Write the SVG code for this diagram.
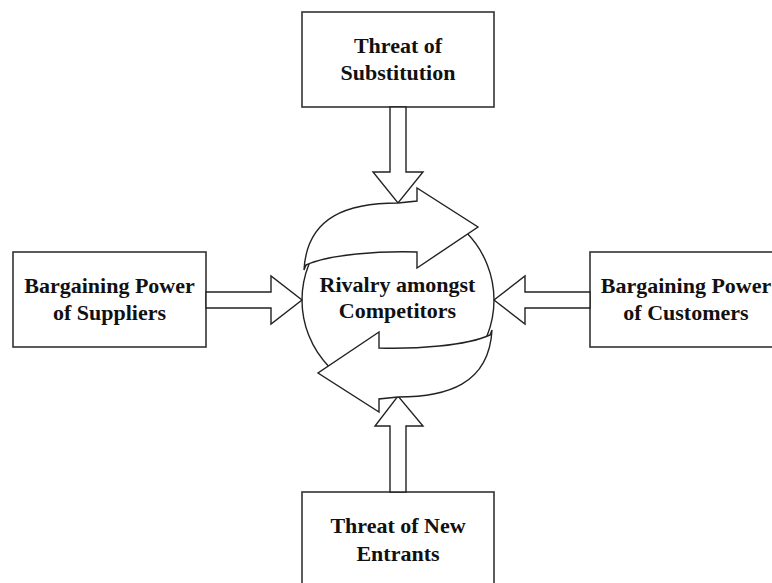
<svg xmlns="http://www.w3.org/2000/svg" width="772" height="583" viewBox="0 0 772 583">
  <style>
    .box { fill: #fff; stroke: #333; stroke-width: 1.6; }
    .shape { fill: #fff; stroke: #222; stroke-width: 1.4; stroke-linejoin: miter; }
    .label { font-family: "Liberation Serif", "Times New Roman", serif; font-weight: bold; font-size: 22px; fill: #111; text-anchor: middle; }
  </style>
  <defs>
    <!-- curved block arrow sweeping over the top of the circle -->
    <path id="sweep" d="M304,270 C307,215 350,203 398,203 L417,201 L417,188 L478,227 L417,268 L417,252 C380,251 330,254 306,265 Z"/>
  </defs>
  <rect width="772" height="583" fill="#fff"/>

  <g id="threat-substitution">
    <rect class="box" x="302" y="12" width="192" height="95"/>
    <text class="label" x="398" y="53">Threat of</text>
    <text class="label" x="398" y="80">Substitution</text>
  </g>

  <g id="supplier-power">
    <rect class="box" x="13" y="252" width="193" height="95"/>
    <text class="label" x="109.5" y="293">Bargaining Power</text>
    <text class="label" x="109.5" y="320">of Suppliers</text>
  </g>

  <g id="customer-power">
    <rect class="box" x="590" y="252" width="193" height="95"/>
    <text class="label" x="686" y="293">Bargaining Power</text>
    <text class="label" x="686" y="320">of Customers</text>
  </g>

  <g id="new-entrants">
    <rect class="box" x="302" y="492" width="192" height="100"/>
    <text class="label" x="398" y="533">Threat of New</text>
    <text class="label" x="398" y="561">Entrants</text>
  </g>

  <g id="rivalry">
    <circle class="shape" cx="398" cy="300" r="96"/>
  </g>

  <g id="connectors">
    <!-- down from Threat of Substitution -->
    <polygon class="shape" points="390,107 406,107 406,172 423,172 398,203 373,172 390,172"/>
    <!-- up from Threat of New Entrants -->
    <polygon class="shape" points="390,492 406,492 406,426 423,426 398,396 375,426 390,426"/>
    <!-- right from Suppliers -->
    <polygon class="shape" points="206,292 271,292 271,276 302,300 271,324 271,308 206,308"/>
    <!-- left from Customers -->
    <polygon class="shape" points="590,292 525,292 525,276 494,300 525,324 525,308 590,308"/>
  </g>

  <g id="rivalry-cycle">
    <use href="#sweep" class="shape"/>
    <use href="#sweep" class="shape" transform="rotate(180 398 300)"/>
    <text class="label" x="397.5" y="292">Rivalry amongst</text>
    <text class="label" x="397.5" y="318">Competitors</text>
  </g>
</svg>
